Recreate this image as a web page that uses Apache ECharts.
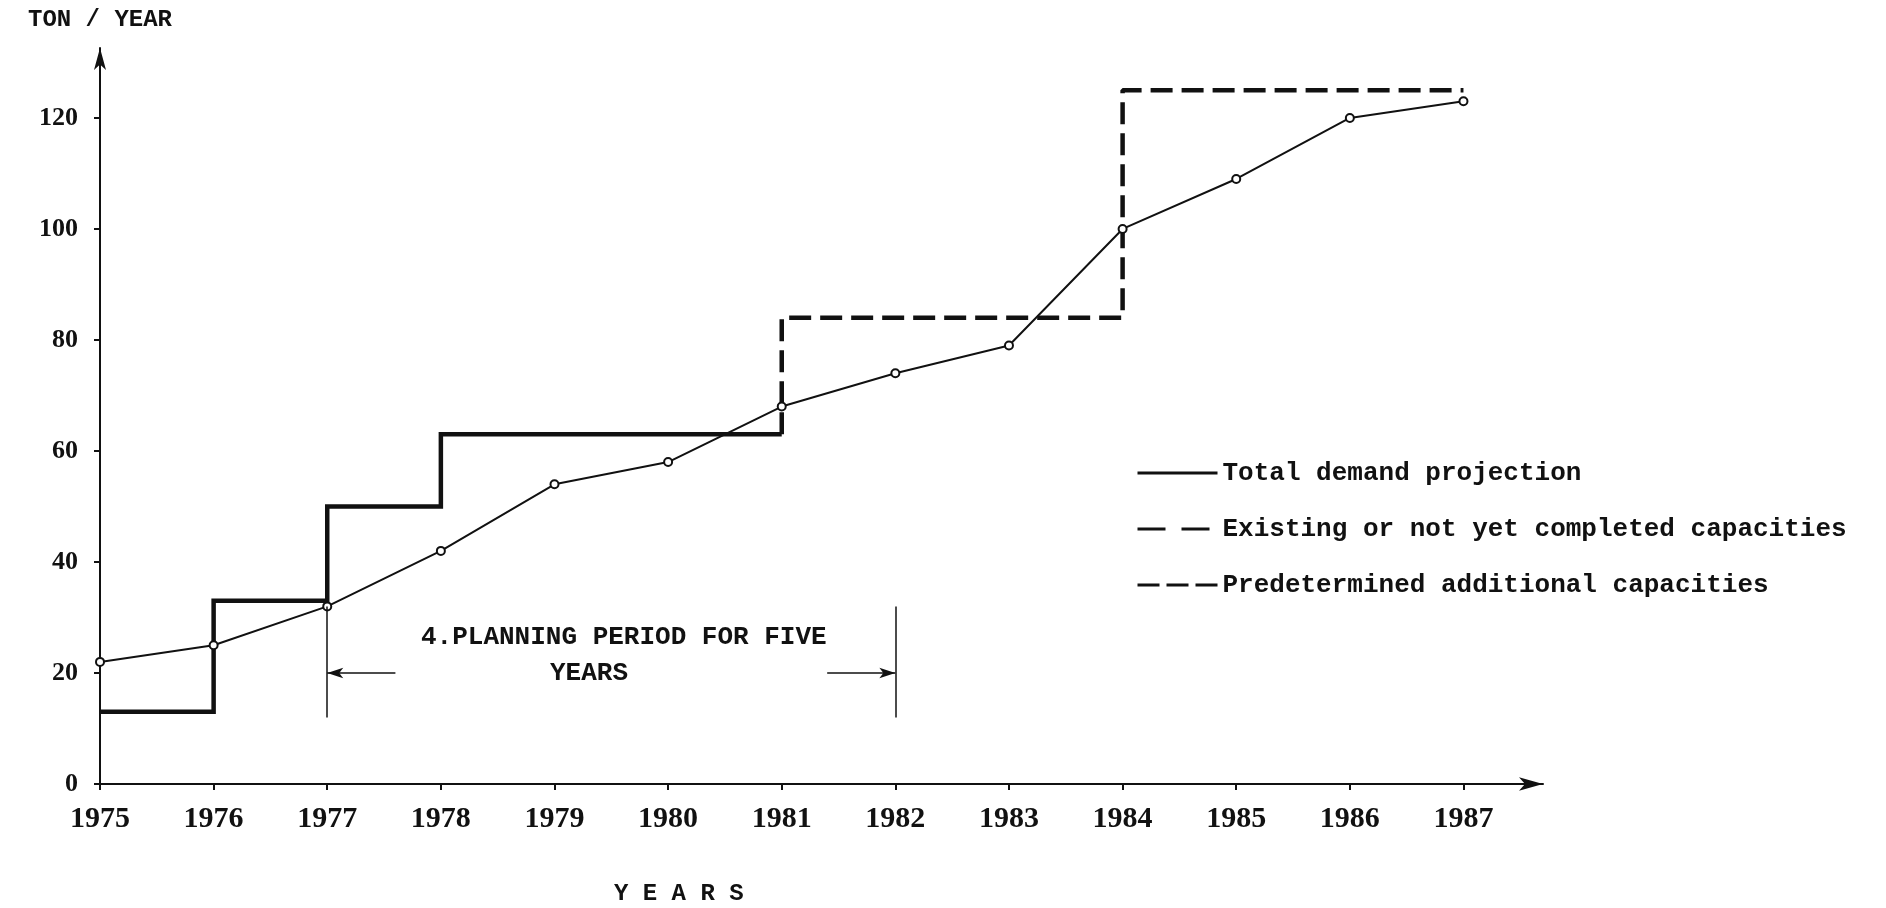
<!DOCTYPE html>
<html>
<head>
<meta charset="utf-8">
<title>Demand and capacity planning</title>
<script src="https://cdn.jsdelivr.net/npm/echarts@6/dist/echarts.min.js"></script>
<style>
  html, body { margin: 0; padding: 0; background: #fff; }
  #chart { width: 1886px; height: 908px; }
</style>
</head>
<body>
<div id="chart"></div>
<script>
// years along the x axis
const years = [1975, 1976, 1977, 1978, 1979, 1980, 1981, 1982, 1983, 1984, 1985, 1986, 1987];
// total demand projection (ton / year)
const demand = [22, 25, 32, 42, 54, 58, 68, 74, 79, 100, 109, 120, 123];
// existing capacities, one step per year (1975 - 1981)
const existingYears = [1975, 1976, 1977, 1978, 1979, 1980, 1981];
const existing = [13, 33, 50, 63, 63, 63, 63];
// predetermined additional capacities (1981 - 1987)
const addedYears = [1981, 1982, 1983, 1984, 1985, 1986, 1987];
const added = [63, 84, 84, 84, 125, 125, 125];
// y tick labels
const yTicks = [0, 20, 40, 60, 80, 100, 120];
// planning period bracket: start / end year, height of the bracket and arrow level
const planningSpan = [1977, 1982];
const bracketRange = [12, 32];
const arrowLevel = 20;
const arrowLen = 0.6;

const names = [
    'Total demand projection',
    'Existing or not yet completed capacities',
    'Predetermined additional capacities'
];
const ink = '#111';
const typeFont = 'Liberation Mono';
const numFont = 'Liberation Serif';

const pairs = (xs, ys) => xs.map((x, i) => [x, ys[i]]);

const chart = echarts.init(document.getElementById('chart'));

const option = {
    backgroundColor: '#fff',
    animation: false,
    grid: { left: 100, right: 343, top: 48, bottom: 124 },
    title: {
        text: 'Y E A R S',
        left: 614,
        top: 882,
        padding: 0,
        textStyle: { fontFamily: typeFont, fontWeight: 'bold', fontSize: 24, color: ink }
    },
    legend: {
        orient: 'vertical',
        left: 1131,
        top: 455,
        itemWidth: 80,
        itemHeight: 26,
        itemGap: 30,
        selectedMode: false,
        itemStyle: { opacity: 0 },
        textStyle: { fontFamily: typeFont, fontWeight: 'bold', fontSize: 26, color: ink },
        data: [
            { name: names[0], lineStyle: { type: 'solid', width: 3, color: ink } },
            { name: names[1], lineStyle: { type: [28, 16], width: 3, color: ink } },
            { name: names[2], lineStyle: { type: [22, 7], width: 3, color: ink } }
        ]
    },
    xAxis: {
        type: 'value',
        min: 1975,
        max: 1987.7,
        interval: 1,
        splitLine: { show: false },
        axisLine: {
            symbol: ['none', 'arrow'],
            symbolSize: [10, 24],
            lineStyle: { color: ink, width: 2 }
        },
        axisTick: { customValues: years, length: 6, lineStyle: { color: ink, width: 2 } },
        axisLabel: {
            customValues: years,
            margin: 20,
            formatter: v => String(v),
            fontFamily: numFont,
            fontWeight: 'bold',
            fontSize: 30,
            color: ink
        }
    },
    yAxis: {
        type: 'value',
        min: 0,
        max: 132.6,
        interval: 20,
        name: 'TON / YEAR',
        nameLocation: 'end',
        nameGap: 16,
        nameTextStyle: { fontFamily: typeFont, fontWeight: 'bold', fontSize: 24, color: ink },
        splitLine: { show: false },
        axisLine: {
            symbol: ['none', 'arrow'],
            symbolSize: [9, 22],
            lineStyle: { color: ink, width: 2 }
        },
        axisTick: { customValues: yTicks, length: 6, lineStyle: { color: ink, width: 2 } },
        axisLabel: {
            customValues: yTicks,
            margin: 22,
            fontFamily: numFont,
            fontWeight: 'bold',
            fontSize: 26,
            color: ink
        }
    },
    graphic: [
        {
            type: 'text',
            left: 421,
            top: 624,
            style: { text: '4.PLANNING PERIOD FOR FIVE', fontFamily: typeFont, fontWeight: 'bold', fontSize: 26, fill: ink }
        },
        {
            type: 'text',
            left: 550,
            top: 660,
            style: { text: 'YEARS', fontFamily: typeFont, fontWeight: 'bold', fontSize: 26, fill: ink }
        }
    ],
    series: [
        {
            name: names[0],
            type: 'line',
            data: pairs(years, demand),
            symbol: 'emptyCircle',
            symbolSize: 8,
            lineStyle: { color: ink, width: 2 },
            itemStyle: { color: ink, borderWidth: 2 },
            emphasis: { disabled: true },
            z: 4
        },
        {
            name: names[1],
            type: 'line',
            step: 'end',
            data: pairs(existingYears, existing),
            symbol: 'none',
            lineStyle: { color: ink, width: 4.5, join: 'miter' },
            itemStyle: { color: ink },
            emphasis: { disabled: true },
            markLine: {
                silent: true,
                symbol: ['none', 'arrow'],
                symbolSize: [8, 16],
                label: { show: false },
                lineStyle: { color: ink, width: 1.5, type: 'solid' },
                data: [
                    [
                        { coord: [planningSpan[0], bracketRange[0]], symbol: 'none' },
                        { coord: [planningSpan[0], bracketRange[1]], symbol: 'none' }
                    ],
                    [
                        { coord: [planningSpan[1], bracketRange[0]], symbol: 'none' },
                        { coord: [planningSpan[1], bracketRange[1]], symbol: 'none' }
                    ],
                    [
                        { coord: [planningSpan[0] + arrowLen, arrowLevel], symbol: 'none' },
                        { coord: [planningSpan[0], arrowLevel] }
                    ],
                    [
                        { coord: [planningSpan[1] - arrowLen, arrowLevel], symbol: 'none' },
                        { coord: [planningSpan[1], arrowLevel] }
                    ]
                ]
            }
        },
        {
            name: names[2],
            type: 'line',
            step: 'start',
            data: pairs(addedYears, added),
            symbol: 'none',
            lineStyle: { color: ink, width: 4.5, type: [22, 9] },
            itemStyle: { color: ink },
            emphasis: { disabled: true }
        }
    ]
};

chart.setOption(option);
</script>
</body>
</html>
